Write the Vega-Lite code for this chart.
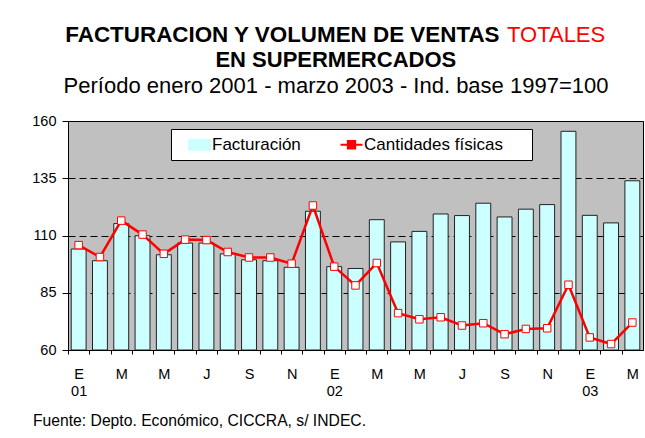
{
  "$schema": "https://vega.github.io/schema/vega-lite/v6.json",
  "width": 575,
  "height": 229,
  "autosize": "none",
  "padding": {"left": 68, "top": 121, "right": 2, "bottom": 88},
  "background": "white",
  "view": {"fill": "#C0C0C0", "stroke": "#000000", "strokeWidth": 1},
  "config": {
    "font": "Liberation Sans",
    "axis": {"labelColor": "#000000", "titleColor": "#000000", "domainColor": "#000000", "tickColor": "#000000"}
  },
  "title": {
    "text": "Fuente: Depto. Económico, CICCRA, s/ INDEC.",
    "orient": "bottom", "anchor": "start", "frame": "group",
    "dx": -35, "offset": 28, "baseline": "alphabetic",
    "fontSize": 15.7, "fontWeight": "normal", "color": "#000000"
  },
  "data": {
    "values": [
      {"mes": "2001-01", "fact": 104.1, "cant": 105.8},
      {"mes": "2001-02", "fact": 99.0, "cant": 100.6},
      {"mes": "2001-03", "fact": 115.2, "cant": 116.5},
      {"mes": "2001-04", "fact": 109.9, "cant": 110.4},
      {"mes": "2001-05", "fact": 101.6, "cant": 102.0},
      {"mes": "2001-06", "fact": 106.7, "cant": 108.2},
      {"mes": "2001-07", "fact": 106.7, "cant": 108.0},
      {"mes": "2001-08", "fact": 102.0, "cant": 102.8},
      {"mes": "2001-09", "fact": 99.4, "cant": 100.4},
      {"mes": "2001-10", "fact": 99.0, "cant": 100.4},
      {"mes": "2001-11", "fact": 96.1, "cant": 97.7},
      {"mes": "2001-12", "fact": 120.6, "cant": 123.1},
      {"mes": "2002-01", "fact": 96.4, "cant": 96.4},
      {"mes": "2002-02", "fact": 95.6, "cant": 88.2},
      {"mes": "2002-03", "fact": 116.9, "cant": 98.0},
      {"mes": "2002-04", "fact": 107.2, "cant": 76.1},
      {"mes": "2002-05", "fact": 111.8, "cant": 73.4},
      {"mes": "2002-06", "fact": 119.4, "cant": 74.3},
      {"mes": "2002-07", "fact": 118.7, "cant": 70.7},
      {"mes": "2002-08", "fact": 124.1, "cant": 71.7},
      {"mes": "2002-09", "fact": 118.1, "cant": 66.9},
      {"mes": "2002-10", "fact": 121.5, "cant": 69.2},
      {"mes": "2002-11", "fact": 123.5, "cant": 69.5},
      {"mes": "2002-12", "fact": 155.5, "cant": 88.5},
      {"mes": "2003-01", "fact": 118.8, "cant": 65.5},
      {"mes": "2003-02", "fact": 115.5, "cant": 62.6},
      {"mes": "2003-03", "fact": 133.9, "cant": 72.0}
    ]
  },
  "layer": [
    {
      "mark": {"type": "bar", "stroke": "#222222", "strokeWidth": 1, "clip": true},
      "encoding": {
        "x": {
          "field": "mes", "type": "ordinal",
          "scale": {"paddingInner": 0.3, "paddingOuter": 0.15},
          "axis": {
            "labelExpr": "substring(datum.value,5,7) == '01' ? ['E', substring(datum.value,2,4)] : ['E','','M','','M','','J','','S','','N',''][toNumber(substring(datum.value,5,7))-1]",
            "labelAngle": 0, "labelFontSize": 14.5, "labelLineHeight": 17,
            "tickSize": 4, "tickOffset": -10.648, "labelOffset": 10.648, "labelPadding": 13,
            "domain": true, "grid": false,
            "title": "FACTURACION Y VOLUMEN DE VENTAS",
            "titleX": 431, "titleY": -309, "titleAlign": "right", "titleBaseline": "alphabetic",
            "titleFontSize": 22.4, "titleFontWeight": "bold"
          }
        },
        "y": {
          "field": "fact", "type": "quantitative",
          "scale": {"domain": [60, 160], "clamp": true, "nice": false, "zero": false},
          "axis": {
            "values": [60, 85, 110, 135, 160],
            "grid": true, "gridColor": "#000000", "gridDash": [7, 4], "gridWidth": 1, "gridOpacity": 1,
            "tickSize": 6, "labelFontSize": 14.5, "labelPadding": 6,
            "title": "EN SUPERMERCADOS", "titleAngle": 0, "titleX": 267.3, "titleY": -54.3,
            "titleAlign": "center", "titleBaseline": "alphabetic", "titleFontSize": 22, "titleFontWeight": "bold"
          }
        },
        "color": {
          "datum": "Facturación",
          "scale": {"domain": ["Facturación", "Cantidades físicas"], "range": ["#CCFFFF", "#FF0000"]},
          "legend": {
            "orient": "none", "legendX": 103, "legendY": 8, "direction": "horizontal",
            "title": " ", "titleOrient": "right", "titlePadding": 22, "titleFontSize": 10,
            "fillColor": "#FFFFFF", "strokeColor": "#000000", "padding": 7,
            "labelFontSize": 17, "labelColor": "#000000", "symbolOffset": 13, "labelOffset": 4, "columnPadding": 29,
            "labelLimit": 400, "symbolSize": 484, "symbolStrokeWidth": 1,
            "encoding": {
              "symbols": {
                "shape": {"value": {"expr": "datum.value === 'Facturación' ? 'M-1,-0.5H1V0.5H-1Z' : 'M-1,0H-0.33M0.33,0H1M-0.33,-0.33H0.33V0.33H-0.33Z'"}},
                "fill": {"value": {"expr": "datum.value === 'Facturación' ? '#CCFFFF' : '#FFFFFF'"}},
                "stroke": {"value": {"expr": "datum.value === 'Facturación' ? '#000000' : '#FF0000'"}},
                "strokeWidth": {"value": {"expr": "datum.value === 'Facturación' ? 1 : 2"}}
              }
            }
          }
        }
      }
    },
    {
      "mark": {"type": "line", "strokeWidth": 2.5, "clip": true},
      "encoding": {
        "x": {
          "field": "mes", "type": "ordinal",
          "axis": {
            "orient": "top", "labels": false, "ticks": false, "domain": false, "grid": false,
            "title": "Período enero 2001 - marzo 2003 - Ind. base 1997=100",
            "titleX": 267.5, "titleY": -28.3, "titleAlign": "center", "titleBaseline": "alphabetic",
            "titleFontSize": 22, "titleFontWeight": "normal"
          }
        },
        "y": {
          "field": "cant", "type": "quantitative",
          "axis": {
            "orient": "right", "labels": false, "ticks": false, "domain": false, "grid": false,
            "title": "TOTALES", "titleAngle": 0, "titleX": -136.5, "titleY": -80,
            "titleAlign": "left", "titleBaseline": "alphabetic", "titleFontSize": 22,
            "titleFontWeight": "normal", "titleColor": "#FF0000"
          }
        },
        "color": {"datum": "Cantidades físicas"}
      }
    },
    {
      "mark": {"type": "point", "shape": "square", "filled": true, "fill": "#FFFFFF", "stroke": "#FF0000", "strokeWidth": 1, "size": 56, "opacity": 1},
      "encoding": {
        "x": {"field": "mes", "type": "ordinal", "axis": null},
        "y": {"field": "cant", "type": "quantitative", "axis": null}
      }
    }
  ],
  "resolve": {"axis": {"x": "independent", "y": "independent"}}
}
